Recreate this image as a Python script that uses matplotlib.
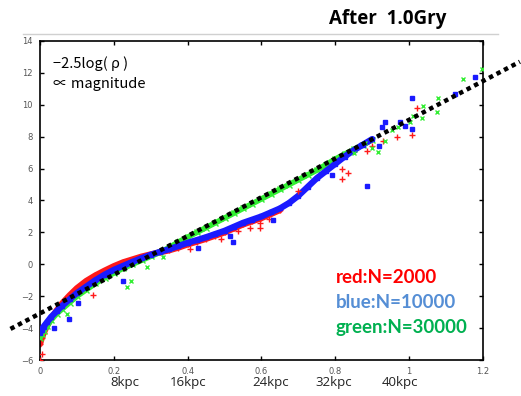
import matplotlib
matplotlib.use('Agg')
import matplotlib.pyplot as plt
import matplotlib.transforms as mtransforms
from matplotlib.lines import Line2D

# dense band centres
band_x = [0.0, 0.005, 0.01, 0.02, 0.03, 0.045, 0.06, 0.08, 0.1, 0.125, 0.15, 0.175,
          0.2, 0.225, 0.25, 0.275, 0.3, 0.325, 0.35, 0.375, 0.4, 0.425, 0.45, 0.475,
          0.5, 0.525, 0.55, 0.575, 0.6, 0.625, 0.65, 0.675, 0.7, 0.725, 0.75, 0.775,
          0.8, 0.825, 0.85, 0.875, 0.9]
red_band = [-5.0, -4.6, -4.3, -3.8, -3.4, -2.9, -2.45, -1.95, -1.5, -1.05, -0.7, -0.4,
            -0.12, 0.12, 0.3, 0.48, 0.62, 0.75, 0.88, 1.05, 1.25, 1.42, 1.6, 1.8,
            2.0, 2.25, 2.5, 2.7, 2.9, 3.15, 3.4]
blue_band = [-4.3, -4.1, -3.9, -3.6, -3.3, -2.95, -2.6, -2.2, -1.8, -1.4, -1.0, -0.65,
             -0.35, -0.1, 0.15, 0.38, 0.6, 0.78, 0.95, 1.15, 1.35, 1.52, 1.7, 1.9,
             2.1, 2.35, 2.6, 2.8, 3.0, 3.25, 3.5, 3.85, 4.3, 4.85, 5.4, 5.85,
             6.3, 6.75, 7.15, 7.5, 7.85]
green_band = [-4.6, -4.4, -4.2, -3.85, -3.5, -3.1, -2.8, -2.4, -2.0, -1.6, -1.2, -0.85,
              -0.55, -0.25, 0.0, 0.25, 0.5, 0.75, 1.05, 1.4, 1.7, 2.0, 2.3, 2.6,
              2.9, 3.2, 3.5, 3.8, 4.1, 4.4, 4.7, 5.0, 5.3, 5.6, 5.9, 6.25,
              6.6, 6.9, 7.2, 7.5, 7.8]

# scattered points outside the bands
red_x = [0.0, 0.005, 0.144, 0.406, 0.49, 0.536, 0.569, 0.596, 0.596, 0.62, 0.7, 0.818,
         0.818, 0.834, 0.885, 0.9, 0.93, 0.967, 1.008, 1.021]
red_y = [-6.0, -5.6, -1.9, 0.94, 1.6, 2.1, 2.3, 2.6, 2.25, 2.85, 4.6, 6.0,
         5.35, 5.75, 7.1, 7.4, 7.75, 8.0, 8.1, 9.8]
blue_x = [0.038, 0.079, 0.103, 0.225, 0.428, 0.515, 0.523, 0.63, 0.79, 0.87, 0.885,
          0.918, 0.926, 0.934, 0.975, 0.99, 1.008, 1.008, 1.124, 1.178]
blue_y = [-4.0, -3.4, -2.4, -1.06, 1.0, 1.75, 1.4, 2.75, 5.6, 7.5, 4.9,
          7.4, 8.6, 8.9, 8.9, 8.7, 8.5, 10.4, 10.7, 11.75]
green_x = [0.073, 0.235, 0.246, 0.29, 0.333, 0.85, 0.88, 0.9, 0.916, 0.934, 0.953,
           0.97, 1.002, 1.01, 1.035, 1.037, 1.075, 1.078, 1.146, 1.197]
green_y = [-3.1, -1.45, -1.06, -0.2, 0.43, 7.0, 7.6, 7.3, 7.06, 7.75, 8.4,
           8.6, 8.9, 9.3, 9.2, 9.9, 9.56, 10.4, 11.6, 12.25]

# fitted line end points
fit_x = [-0.08, 1.30]
fit_y = [-4.05, 12.7]

xticks = [0, 0.2, 0.4, 0.6, 0.8, 1, 1.2]
xtick_labels = ['0', '0.2', '0.4', '0.6', '0.8', '1', '1.2']
yticks = [-6, -4, -2, 0, 2, 4, 6, 8, 10, 12, 14]
kpc_pos = [0.23, 0.40, 0.626, 0.796, 0.975]
kpc_labels = ['8kpc', '16kpc', '24kpc', '32kpc', '40kpc']

RED = '#ff1a1a'
BLUE = '#1a1aff'
GREEN = '#33ee33'

fig = plt.figure(figsize=(5.21, 3.96), dpi=100)
ax = fig.add_axes([0.0768, 0.0909, 0.8502, 0.8056])

# bands: thick line + markers for texture
nr = len(red_band)
ax.plot(band_x[:nr], red_band, color=RED, lw=4.5, solid_capstyle='round', zorder=2)
ax.plot(band_x[:nr], red_band, '+', color=RED, ms=5, mew=1, zorder=2)
ax.plot(band_x, green_band, color=GREEN, lw=4, solid_capstyle='round', zorder=3)
ax.plot(band_x, green_band, 'x', color=GREEN, ms=4.5, mew=1, zorder=3)
ax.plot(band_x, blue_band, color=BLUE, lw=4.5, solid_capstyle='round', zorder=4)
ax.plot(band_x, blue_band, 's', color=BLUE, ms=3.5, zorder=4)

ax.plot(red_x, red_y, '+', color=RED, ms=4, mew=1, ls='none', zorder=5)
ax.plot(blue_x, blue_y, 's', color=BLUE, ms=2.8, ls='none', zorder=5)
ax.plot(green_x, green_y, 'x', color=GREEN, ms=3.5, mew=1, ls='none', zorder=5)

fit = Line2D(fit_x, fit_y, color='black', lw=3.2, dashes=(1, 0.9),
             dash_capstyle='butt', zorder=6, clip_on=False)
ax.add_line(fit)

ax.set_xlim(0, 1.2)
ax.set_ylim(-6, 14)
ax.set_xticks(xticks)
ax.set_xticklabels(xtick_labels)
ax.set_yticks(yticks)
ax.tick_params(direction='in', length=3, width=1, top=True, right=True,
               labelsize=6, labelcolor='#555555', pad=5)
for s in ax.spines.values():
    s.set_linewidth(1.2)

ax.text(0.03, 0.93, '\u22122.5log( \u03c1 )', transform=ax.transAxes, fontsize=10.5,
        family=['Noto Sans CJK JP', 'DejaVu Sans'], va='center')
ax.text(0.03, 0.865, '\u221d magnitude', transform=ax.transAxes, fontsize=10.5,
        family=['Noto Sans CJK JP', 'DejaVu Sans'], va='center')

ax.text(0.668, 0.258, 'red:N=2000', transform=ax.transAxes, color='#ff0000',
        fontsize=13.5, fontweight='bold', family='Lato', va='center')
ax.text(0.668, 0.18, 'blue:N=10000', transform=ax.transAxes, color='#558ed5',
        fontsize=13.5, fontweight='bold', family='Lato', va='center')
ax.text(0.668, 0.102, 'green:N=30000', transform=ax.transAxes, color='#00b050',
        fontsize=13.5, fontweight='bold', family='Lato', va='center')

trans = mtransforms.blended_transform_factory(ax.transData, fig.transFigure)
for p, lab in zip(kpc_pos, kpc_labels):
    ax.text(p, 0.033, lab, transform=trans, ha='center', va='center',
            fontsize=9.5, family='Open Sans', color='#222222')

fig.text(0.745, 0.953, 'After  1.0Gry', ha='center', va='center', fontsize=13.5,
         fontweight='bold', family='Open Sans')
fig.add_artist(Line2D([0.044, 0.956], [0.914, 0.914], transform=fig.transFigure,
                      color='#d0d0d0', lw=1))

fig.savefig('out.png', dpi=100)
